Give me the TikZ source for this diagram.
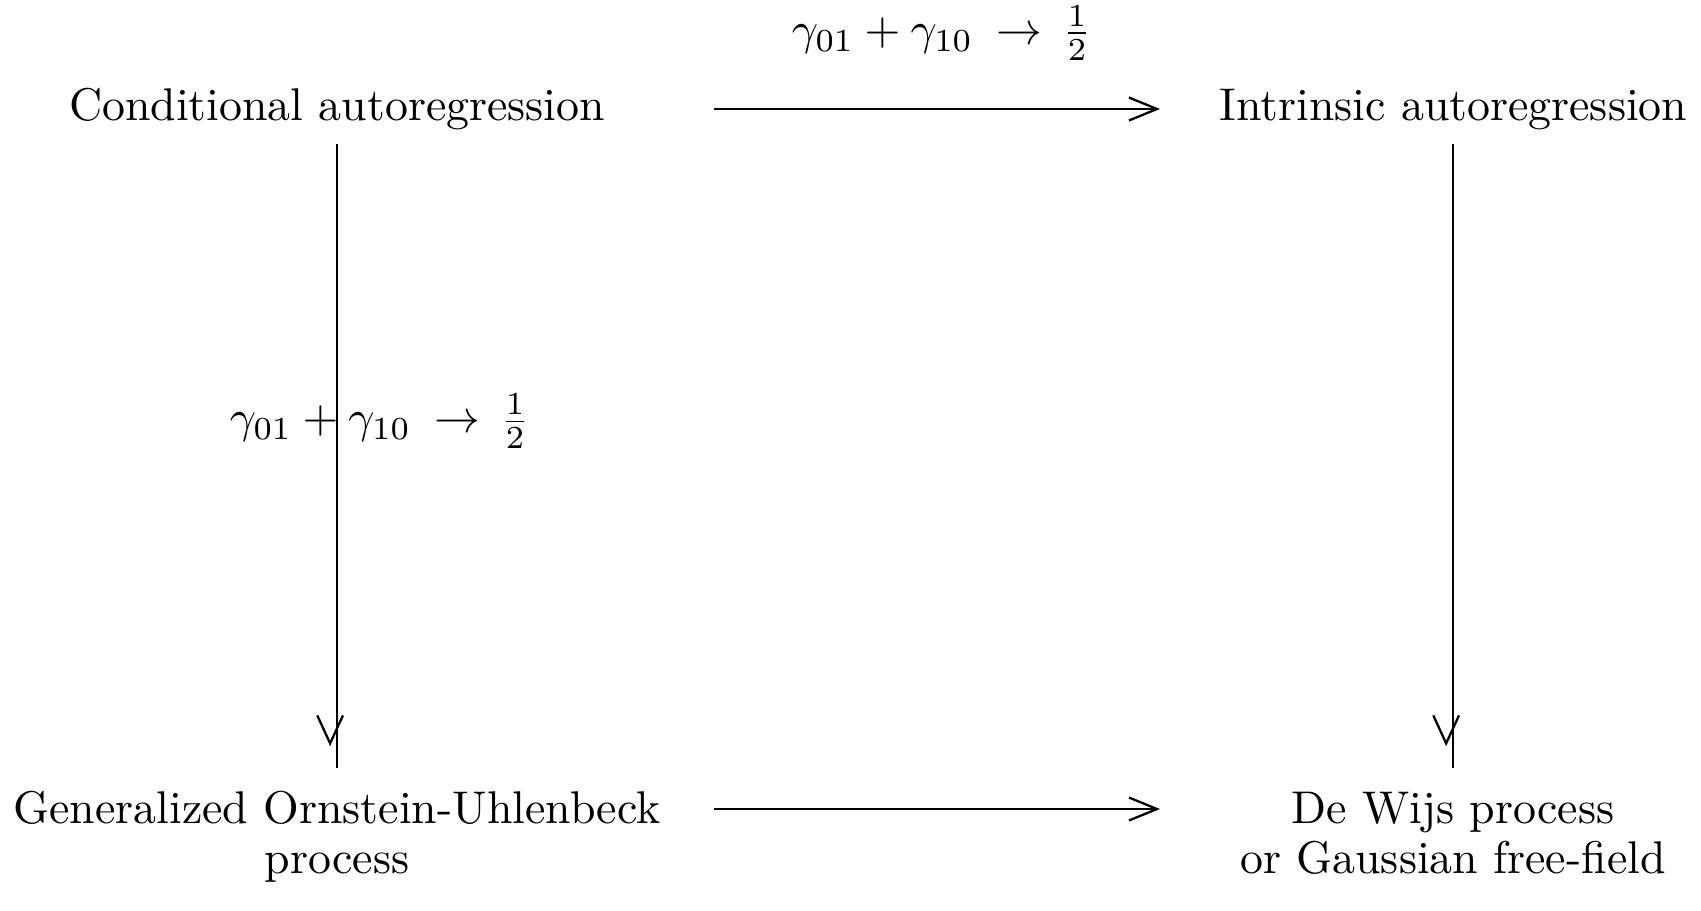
\documentclass[tikz,border=0pt]{standalone}
\usetikzlibrary{arrows.meta,decorations.markings}
\begin{document}
\begin{tikzpicture}[x=0.21801pt,y=-0.21801pt,
  txt/.style={inner sep=0pt, anchor=base, align=center},
  conn/.style={line width=0.5pt},
  harrow/.style={conn,-{Straight Barb[length=6.1pt,width=5pt,line width=0.5pt]}},
  varrow/.style={conn, postaction={decorate},
    decoration={markings, mark=at position 0.965 with {\begin{scope}[yshift=-1.5pt]\arrow[line width=0.5pt]{Straight Barb[length=6.1pt,width=5.6pt]}\end{scope}}}}]
\useasboundingbox (0,0) rectangle (1701,911);
% nodes
\node[txt] (ca) at (337,121) {Conditional autoregression};
\node[txt] (ia) at (1453.5,121) {Intrinsic autoregression};
\node[txt] (go) at (337,873) {Generalized Ornstein-Uhlenbeck\\[-1.1pt]process};
\node[txt] (dw) at (1453,873) {De Wijs process\\[-1.1pt]or Gaussian free-field};
\node[txt] (lt) at (941.7,44.5) {$\gamma_{01}+\gamma_{10}\:\rightarrow\,\frac{1}{2}$};
\node[txt] (lv) at (379.7,433) {$\gamma_{01}+\gamma_{10}\:\rightarrow\,\frac{1}{2}$};
% connector ends
\coordinate (h1s) at (714,109);
\coordinate (h1e) at (1160,109);
\coordinate (h2s) at (714,809);
\coordinate (h2e) at (1160,809);
\coordinate (v1s) at (337,144);
\coordinate (v1e) at (337,768);
\coordinate (v2s) at (1453,144);
\coordinate (v2e) at (1453,768);
% connectors
\draw[harrow] (h1s) -- (h1e);
\draw[harrow] (h2s) -- (h2e);
\draw[varrow] (v1s) -- (v1e);
\draw[varrow] (v2s) -- (v2e);
\end{tikzpicture}
\end{document}
